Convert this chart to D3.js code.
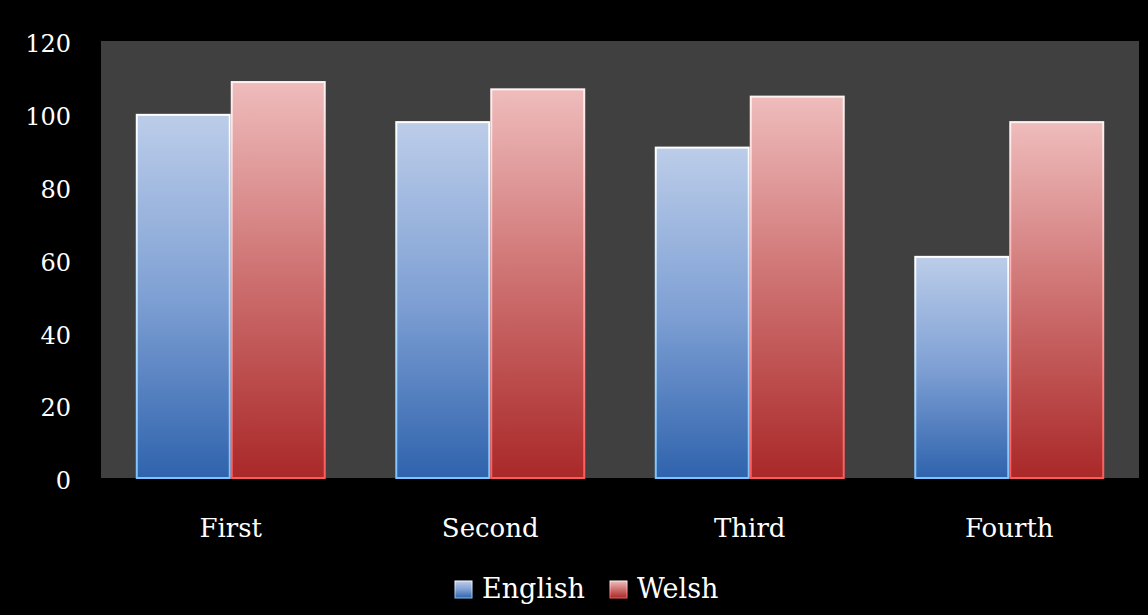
<!DOCTYPE html>
<html>
<head>
<meta charset="utf-8">
<script src="https://cdn.jsdelivr.net/npm/d3@7/dist/d3.min.js"></script>
<style>
  html, body { margin: 0; padding: 0; background: #000; }
  svg { display: block; }
  text { font-family: "DejaVu Serif", "Liberation Serif", serif; fill: #fff; }
</style>
</head>
<body>
<svg id="chart" width="1148" height="615"></svg>
<script>
const categories = ["First", "Second", "Third", "Fourth"];
const seriesNames = ["English", "Welsh"];
const english = [100, 98, 91, 61];
const welsh = [109, 107, 105, 98];
const yTicks = [0, 20, 40, 60, 80, 100, 120];

const W = 1148, H = 615;
const plot = { left: 101, top: 41, right: 1139, bottom: 478 };

const svg = d3.select("#chart");
svg.append("rect").attr("width", W).attr("height", H).attr("fill", "#000");

const defs = svg.append("defs");
const palettes = {
  English: { fill: ["#bccde9", "#7fa0d4", "#2f63ad"], edge: ["#ffffff", "#7cc4ff"] },
  Welsh:   { fill: ["#efbcbc", "#cd6f6f", "#aa2828"], edge: ["#fff2f2", "#ff5a5a"] }
};
Object.entries(palettes).forEach(([name, p]) => {
  const g = defs.append("linearGradient").attr("id", "fill-" + name)
    .attr("x1", 0).attr("y1", 0).attr("x2", 0).attr("y2", 1);
  g.append("stop").attr("offset", 0).attr("stop-color", p.fill[0]);
  g.append("stop").attr("offset", 0.5).attr("stop-color", p.fill[1]);
  g.append("stop").attr("offset", 1).attr("stop-color", p.fill[2]);
  const e = defs.append("linearGradient").attr("id", "edge-" + name)
    .attr("x1", 0).attr("y1", 0).attr("x2", 0).attr("y2", 1);
  e.append("stop").attr("offset", 0).attr("stop-color", p.edge[0]);
  e.append("stop").attr("offset", 1).attr("stop-color", p.edge[1]);
});

svg.append("rect")
  .attr("x", plot.left).attr("y", plot.top)
  .attr("width", plot.right - plot.left).attr("height", plot.bottom - plot.top)
  .attr("fill", "#404040");

const y = d3.scaleLinear().domain([0, 120]).range([plot.bottom, plot.top]);
const x0 = d3.scaleBand().domain(categories).range([plot.left, plot.right]).paddingInner(0.268).paddingOuter(0.134);
const x1 = d3.scaleBand().domain(seriesNames).range([0, x0.bandwidth()]);

const data = categories.map((c, i) => ({ cat: c, values: [
  { series: "English", value: english[i] },
  { series: "Welsh", value: welsh[i] }
]}));

const groups = svg.append("g").selectAll("g").data(data).join("g")
  .attr("transform", d => `translate(${x0(d.cat)},0)`);

groups.selectAll("rect").data(d => d.values).join("rect")
  .attr("x", d => x1(d.series) + 1)
  .attr("y", d => y(d.value) + 1)
  .attr("width", x1.bandwidth() - 2)
  .attr("height", d => y(0) - y(d.value) - 1)
  .attr("fill", d => `url(#fill-${d.series})`)
  .attr("stroke", d => `url(#edge-${d.series})`)
  .attr("stroke-width", 2);

// Y axis labels
const yAxis = d3.axisLeft(y).tickValues(yTicks).tickSize(0).tickPadding(0);
const yg = svg.append("g").attr("transform", "translate(71,0)").call(yAxis);
yg.select(".domain").remove();
yg.selectAll("text").attr("font-size", 24).attr("fill", "#fff").attr("dy", "0.45em")
  .style("font-family", '"DejaVu Serif", serif');

// Category labels
const xAxis = d3.axisBottom(x0).tickSize(0).tickPadding(0);
const xg = svg.append("g").attr("transform", `translate(0,${plot.bottom})`).call(xAxis);
xg.select(".domain").remove();
xg.selectAll("text").attr("font-size", 26).attr("fill", "#fff").attr("dy", null)
  .attr("y", 59).style("font-family", '"DejaVu Serif", serif');

// Legend
const legendItems = [
  { name: "English", x: 455 },
  { name: "Welsh", x: 610 }
];
const lg = svg.append("g").selectAll("g").data(legendItems).join("g")
  .attr("transform", d => `translate(${d.x},581)`);
lg.append("rect").attr("width", 17).attr("height", 17)
  .attr("fill", d => `url(#fill-${d.name})`)
  .attr("stroke", d => `url(#edge-${d.name})`).attr("stroke-width", 1);
lg.append("text").attr("x", 27).attr("y", 17).attr("font-size", 27)
  .text(d => d.name);
</script>
</body>
</html>
